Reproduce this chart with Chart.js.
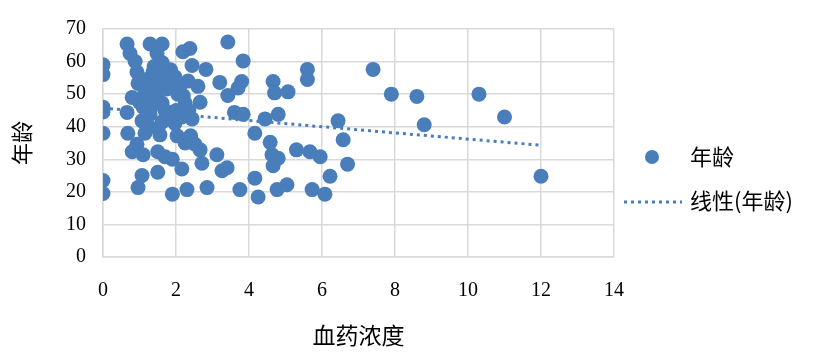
<!DOCTYPE html>
<html>
<head>
<meta charset="utf-8">
<script src="https://cdn.jsdelivr.net/npm/chart.js@4.4.1/dist/chart.umd.min.js"></script>
<style>
  html, body { margin: 0; padding: 0; background: #ffffff; }
  #wrap { width: 827px; height: 354px; }
</style>
</head>
<body>
<div id="wrap"><canvas id="c" width="827" height="354"></canvas></div>
<script>
// ---- data ----
const seriesName = '年龄';
const trendName = '线性(年龄)';
const xTitle = '血药浓度';
const yTitle = '年龄';

const concX = [
  0, 0, 0, 0, 0, 0, 0,
  0.66, 0.74, 0.88, 0.93, 0.96, 1.15, 0.8, 0.66, 0.68, 0.93, 0.8, 1.1, 1.07, 0.96,
  1.29, 1.62, 1.48, 1.62, 1.37, 1.7, 1.97, 1.75, 1.29, 2.05, 1.62, 2.25, 2.33, 1.2, 1.45, 1.1, 1.3, 1.5, 1.85, 2.1,
  1.4, 1.7, 2.0, 1.25, 1.55, 1.85, 2.2, 1.0, 1.4, 2.35,
  1.29, 1.07, 1.62, 1.97, 2.16, 2.44, 1.15, 1.56, 2.03, 2.25, 2.4, 1.5, 1.8,
  1.5, 1.7, 1.9, 2.16, 1.5, 1.9, 2.3,
  2.19, 2.38, 2.44, 2.82, 3.42, 3.84, 3.2, 3.8, 3.7, 3.42, 2.6, 2.66,
  3.6, 3.84, 4.44, 4.8, 2.52, 2.66, 2.71, 3.12, 3.26, 3.4, 4.16, 4.58, 4.63, 4.66, 4.16, 2.85, 3.75, 4.77, 4.25,
  5.6, 5.6, 4.66, 4.7, 5.07, 6.44, 6.58, 5.3, 5.67, 5.95, 4.8, 6.7, 6.22, 5.04, 5.73, 6.08,
  7.4, 7.9, 8.6, 8.8, 10.3, 11.0, 12.0
];
const ageY = [
  59, 56, 46, 44.5, 38, 23.5, 19.5,
  65.4, 62.5, 60, 56.8, 53.3, 51, 49, 44.4, 38, 34.6, 32.3, 31.4, 25, 21.3,
  65.4, 65.4, 62.5, 59.7, 56.8, 56, 55.3, 51.6, 49, 50, 47.3, 47.3, 54, 54.5, 53, 46, 45.5, 51, 53, 52,
  47, 45, 45, 40, 55, 57.5, 49.5, 47.5, 58.5, 45,
  43.8, 41.8, 41.5, 41, 43, 42.4, 38, 37.5, 37.2, 35, 37.2, 39.5, 44,
  32.3, 30.8, 30, 27, 26, 19.3, 20.7,
  63, 64, 58.8, 57.6, 66, 60.2, 53.6, 53.9, 51.9, 49.6, 52.4, 47.5,
  44.4, 43.8, 42.4, 43.8, 34.6, 32.9, 28.8, 31.4, 26.5, 27.4, 38, 35.2, 31.4, 28, 24.2, 21.3, 20.7, 20.7, 18.4,
  57.6, 54.5, 53.9, 50.4, 50.7, 41.8, 36, 32.9, 32.3, 30.8, 30.3, 28.5, 24.8, 22.2, 20.7, 19.3,
  57.6, 50, 49.3, 40.6, 50, 43, 24.8
];
// trend line end points
const trendX = [0, 12];
const trendY = [45.7, 34.3];

const xTicks = [0, 2, 4, 6, 8, 10, 12, 14];
const yTicks = [0, 10, 20, 30, 40, 50, 60, 70];

// ---- styling ----
const BLUE = '#4a7ebb';
const GRID = '#d9d9d9';
const TICK_FONT = { family: '"Liberation Serif", "DejaVu Serif", serif', size: 20 };
const CJK = '"Noto Sans CJK SC", "Noto Sans", sans-serif';

const scatterData = concX.map((x, i) => ({ x: x, y: ageY[i] }));
const trendData = trendX.map((x, i) => ({ x: x, y: trendY[i] }));

const legendPlugin = {
  id: 'customLegend',
  afterDraw(chart) {
    const ctx = chart.ctx;
    const ds = chart.data.datasets;
    ctx.save();
    ctx.fillStyle = ds[0].backgroundColor;
    ctx.beginPath();
    ctx.arc(652, 157, 7, 0, Math.PI * 2);
    ctx.fill();
    ctx.strokeStyle = ds[1].borderColor;
    ctx.lineWidth = 3;
    ctx.setLineDash([3, 4]);
    ctx.beginPath();
    ctx.moveTo(624, 202);
    ctx.lineTo(682, 202);
    ctx.stroke();
    ctx.setLineDash([]);
    ctx.fillStyle = '#000000';
    ctx.font = '22px ' + CJK;
    ctx.textBaseline = 'middle';
    ctx.textAlign = 'left';
    ctx.fillText(ds[0].label, 690, 157);
    ctx.fillText(ds[1].label, 690, 201);
    ctx.restore();
  }
};

new Chart(document.getElementById('c'), {
  type: 'scatter',
  data: {
    datasets: [
      {
        label: seriesName,
        data: scatterData,
        backgroundColor: BLUE,
        borderColor: BLUE,
        pointRadius: 7.5,
        pointBorderWidth: 0,
        pointHoverRadius: 7.5
      },
      {
        label: trendName,
        data: trendData,
        type: 'line',
        showLine: true,
        borderColor: BLUE,
        backgroundColor: BLUE,
        borderWidth: 3,
        borderDash: [3, 4],
        pointRadius: 0,
        fill: false
      }
    ]
  },
  options: {
    responsive: false,
    animation: false,
    events: [],
    layout: { padding: { top: 14, right: 213, left: 0, bottom: 0 } },
    plugins: {
      legend: { display: false },
      tooltip: { enabled: false }
    },
    scales: {
      x: {
        type: 'linear',
        min: xTicks[0],
        max: xTicks[xTicks.length - 1],
        afterBuildTicks(scale) { scale.ticks = xTicks.map(v => ({ value: v })); },
        afterFit(scale) { scale.height = 97; },
        grid: { color: GRID, lineWidth: 1.5, drawTicks: false },
        border: { color: GRID, width: 1.5 },
        ticks: { color: '#000', font: TICK_FONT, padding: 22, maxRotation: 0 },
        title: { display: true, text: xTitle, color: '#000', font: { family: CJK, size: 23 }, padding: { top: 0, bottom: 5 } }
      },
      y: {
        type: 'linear',
        min: yTicks[0],
        max: yTicks[yTicks.length - 1],
        afterBuildTicks(scale) { scale.ticks = yTicks.map(v => ({ value: v })); },
        afterFit(scale) { scale.width = 103; },
        grid: { color: GRID, lineWidth: 1.5, drawTicks: false },
        border: { color: GRID, width: 1.5 },
        ticks: { color: '#000', font: TICK_FONT, padding: 17 },
        title: { display: true, text: yTitle, color: '#000', font: { family: CJK, size: 22 }, padding: { top: 8, bottom: 0 } }
      }
    }
  },
  plugins: [legendPlugin]
});
</script>
</body>
</html>
